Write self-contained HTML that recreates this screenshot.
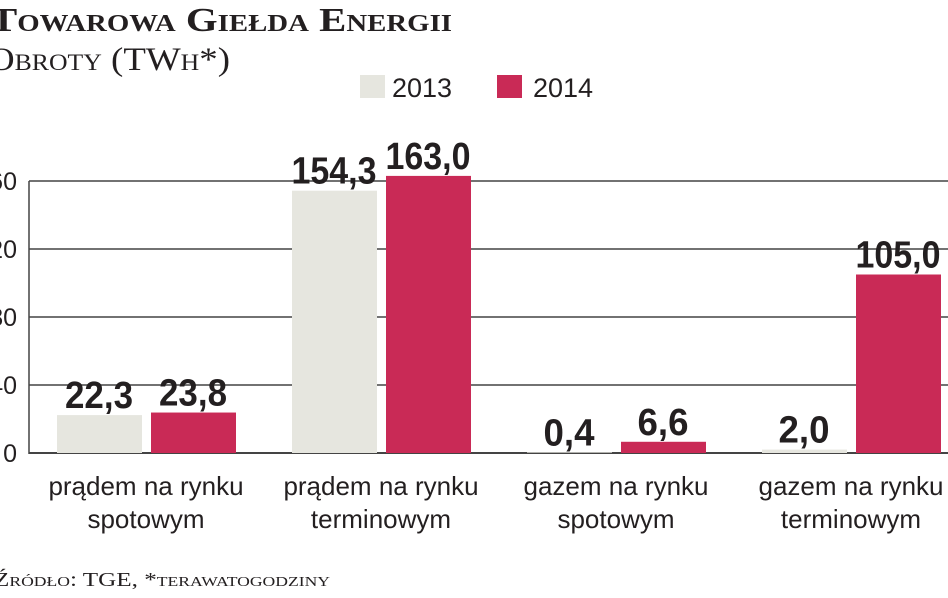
<!DOCTYPE html>
<html><head><meta charset="utf-8"><style>
body{margin:0;width:948px;height:593px;overflow:hidden;background:#fff;font-family:"Liberation Sans Narrow","Liberation Sans",sans-serif;}
svg text{fill:#231f20}
</style></head><body>
<svg width="948" height="593">
<text x="-10" y="31" font-family="Liberation Serif,serif" font-weight="bold" font-size="34" textLength="462" lengthAdjust="spacingAndGlyphs" style="font-variant:small-caps">Towarowa Giełda Energii</text>
<text x="-12" y="70" font-family="Liberation Serif,serif" font-size="33" textLength="242" lengthAdjust="spacingAndGlyphs" style="font-variant:small-caps">Obroty (TWh*)</text>
<rect x="360" y="75" width="25" height="23" fill="#e6e6df"/>
<text x="392" y="97" font-size="27">2013</text>
<rect x="497" y="75" width="25" height="23" fill="#c92a56"/>
<text x="533" y="97" font-size="27">2014</text>
<g id="plot"></g>
<text x="-6" y="586" font-family="Liberation Serif,serif" font-size="20" textLength="336" lengthAdjust="spacingAndGlyphs" style="font-variant:small-caps">Źródło: TGE, *terawatogodziny</text>
</svg>
<script>
const categories=[["prądem na rynku","spotowym"],["prądem na rynku","terminowym"],["gazem na rynku","spotowym"],["gazem na rynku","terminowym"]];
const values2013=[22.3,154.3,0.4,2.0];
const values2014=[23.8,163.0,6.6,105.0];
const labels2013=["22,3","154,3","0,4","2,0"];
const labels2014=["23,8","163,0","6,6","105,0"];
const yTicks=[0,40,80,120,160];
const NS="http://www.w3.org/2000/svg";
const g=document.getElementById('plot');
const y0=453,yScale=272/160,left=29;
const y=v=>y0-v*yScale;
const gx=i=>57+i*235;
function mk(t,a){const e=document.createElementNS(NS,t);for(const k in a)e.setAttribute(k,a[k]);g.appendChild(e);return e;}
yTicks.forEach(t=>{
 const l=mk('line',{x1:left,x2:948,y1:y(t),y2:y(t),stroke:'#444','stroke-width':t===0?2:1.4});
 
 
 const tx=mk('text',{x:17,y:y(t)+9,'text-anchor':'end','font-size':25});
 tx.textContent=t;
 
 
});
mk('line',{x1:left,x2:left,y1:y(160),y2:y0+1,stroke:'#444','stroke-width':1.5});
categories.forEach((c,i)=>{
 [[values2013,labels2013,'#e6e6df',0,'2013'],[values2014,labels2014,'#c92a56',94,'2014']].forEach(([vals,labs,col,off,yr])=>{
  const x=gx(i)+off;
  const r=mk('rect',{x:x,y:y(vals[i]),width:85,height:vals[i]*yScale,fill:col});
  
  
  const t=mk('text',{x:x+42,y:y(vals[i])-7,'text-anchor':'middle','font-size':38,'font-weight':'bold',textLength:17*labs[i].length,lengthAdjust:'spacingAndGlyphs'});
  t.textContent=labs[i];
  
  
 });
 c.forEach((ln,j)=>{
  const t=mk('text',{x:gx(i)+89,y:495+j*33,'text-anchor':'middle','font-size':26});
  t.textContent=ln;
  
  
 });
});
</script>
</body></html>
